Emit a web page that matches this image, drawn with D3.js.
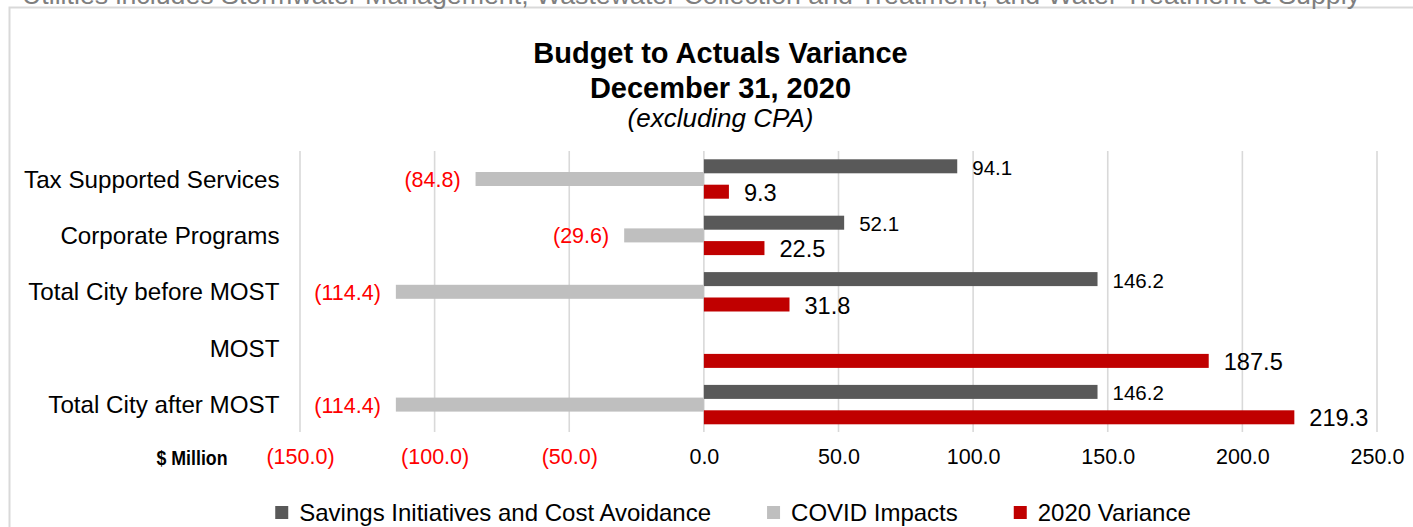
<!DOCTYPE html>
<html><head><meta charset="utf-8">
<script src="https://cdn.jsdelivr.net/npm/d3@7"></script>
<style>
body{margin:0;background:#fff}
svg{display:block}
text{font-family:"Liberation Sans",Arial,Helvetica,sans-serif}
</style>
</head><body>
<svg id="chart" width="1413" height="527"></svg>
<script>
// ---------- data ----------
const categories = ["Tax Supported Services", "Corporate Programs", "Total City before MOST", "MOST", "Total City after MOST"];
const savingsValues = [94.1, 52.1, 146.2, null, 146.2];
const covidValues = [-84.8, -29.6, -114.4, null, -114.4];
const varianceValues = [9.3, 22.5, 31.8, 187.5, 219.3];
const seriesNames = ["Savings Initiatives and Cost Avoidance", "COVID Impacts", "2020 Variance"];
const tickValues = [-150, -100, -50, 0, 50, 100, 150, 200, 250];
const titleLines = ["Budget to Actuals Variance", "December 31, 2020", "(excluding CPA)"];
const axisUnitLabel = "$ Million";
const headerNote = "Utilities includes Stormwater Management, Wastewater Collection and Treatment, and Water Treatment & Supply";

// ---------- styles ----------
const colors = {savings: "#595959", covid: "#bfbfbf", variance: "#c00000"};
const seriesKeys = ["savings", "covid", "variance"];
const seriesData = {savings: savingsValues, covid: covidValues, variance: varianceValues};
const labelStyle = {
  savings: {size: 20.5, fill: "#000"},
  covid: {size: 21.5, fill: "#ff0000"},
  variance: {size: 23.6, fill: "#000"}
};

const svg = d3.select("#chart");
const fmt = v => v < 0 ? "(" + d3.format(".1f")(-v) + ")" : d3.format(".1f")(v);

// ---------- frame & header ----------
svg.append("path")
  .attr("d", "M9.5,527 L9.5,7.5 L1413,7.5")
  .attr("fill", "none").attr("stroke", "#d9d9d9").attr("stroke-width", 2);

svg.append("text")
  .attr("x", 22).attr("y", 3.5)
  .attr("font-size", 25)
  .attr("fill", "#7f7f7f")
  .attr("textLength", 1338).attr("lengthAdjust", "spacingAndGlyphs")
  .text(headerNote);

// ---------- scales ----------
const x = d3.scaleLinear().domain([-150, 250]).range([300, 1377]);
const y = d3.scaleBand().domain(categories).range([150.8, 432.8]).padding(0);
const ys = d3.scalePoint().domain(seriesKeys).range([-12.7, 12.7]);
const barH = 14;

// ---------- gridlines ----------
svg.append("g").selectAll("line").data(tickValues).join("line")
  .attr("x1", d => x(d)).attr("x2", d => x(d))
  .attr("y1", 151).attr("y2", 432)
  .attr("stroke", "#d9d9d9").attr("stroke-width", 1.6);

// ---------- axis tick labels ----------
const axis = d3.axisBottom(x).tickValues(tickValues).tickFormat(fmt).tickSize(0).tickPadding(0);
const axG = svg.append("g").attr("transform", "translate(0,449)").call(axis);
axG.select(".domain").remove();
axG.selectAll("text")
  .attr("font-size", 21.5)
  .attr("font-family", '"Liberation Sans",Arial,sans-serif')
  .attr("dy", null).attr("y", 0)
  .attr("dominant-baseline", "central")
  .attr("transform", "translate(0,8)")
  .attr("fill", d => d < 0 ? "#ff0000" : "#000");

svg.append("text")
  .attr("x", 227.5).attr("y", 457)
  .attr("text-anchor", "end").attr("dominant-baseline", "central")
  .attr("font-size", 21).attr("font-weight", "bold")
  .attr("textLength", 71).attr("lengthAdjust", "spacingAndGlyphs")
  .text(axisUnitLabel);

// ---------- title ----------
const titleY = [63, 97.5, 127];
titleLines.forEach((t, i) => {
  svg.append("text")
    .attr("x", 720.5).attr("y", titleY[i])
    .attr("text-anchor", "middle")
    .attr("font-size", i < 2 ? 29 : 26)
    .attr("font-weight", i < 2 ? "bold" : "normal")
    .attr("font-style", i < 2 ? "normal" : "italic")
    .text(t);
});

// ---------- category labels ----------
svg.append("g").selectAll("text").data(categories).join("text")
  .attr("x", 279.5)
  .attr("y", d => y(d) + y.bandwidth() / 2)
  .attr("text-anchor", "end").attr("dominant-baseline", "central")
  .attr("font-size", 24.2).attr("fill", "#000")
  .text(d => d);

// ---------- bars & labels ----------
seriesKeys.forEach(key => {
  const rows = categories.map((c, i) => ({c, v: seriesData[key][i]})).filter(d => d.v != null);
  const g = svg.append("g");
  g.selectAll("rect").data(rows).join("rect")
    .attr("x", d => Math.min(x(0), x(d.v)))
    .attr("width", d => Math.abs(x(d.v) - x(0)))
    .attr("y", d => y(d.c) + y.bandwidth() / 2 + ys(key) - barH / 2)
    .attr("height", barH)
    .attr("fill", colors[key]);
  g.selectAll("text").data(rows).join("text")
    .attr("x", d => d.v < 0 ? x(d.v) - 15 : x(d.v) + 15)
    .attr("y", d => y(d.c) + y.bandwidth() / 2 + ys(key) + 1)
    .attr("text-anchor", d => d.v < 0 ? "end" : "start")
    .attr("dominant-baseline", "central")
    .attr("font-size", labelStyle[key].size)
    .attr("fill", labelStyle[key].fill)
    .text(d => fmt(d.v));
});

// ---------- legend ----------
const legendFont = 24, sq = 13, sqGap = 11, itemGap = 56;
const legend = svg.append("g");
const items = seriesKeys.map((k, i) => {
  const it = legend.append("g");
  it.append("rect").attr("width", sq).attr("height", sq).attr("y", -sq / 2).attr("fill", colors[k]);
  const t = it.append("text").attr("x", sq + sqGap).attr("y", 0)
    .attr("dominant-baseline", "central").attr("font-size", legendFont).attr("fill", "#000")
    .text(seriesNames[i]);
  return {it, w: sq + sqGap + t.node().getComputedTextLength()};
});
const totalW = d3.sum(items, d => d.w) + itemGap * (items.length - 1);
let cx = 733 - totalW / 2;
items.forEach(d => { d.it.attr("transform", `translate(${cx},512.5)`); cx += d.w + itemGap; });
</script>
</body></html>
